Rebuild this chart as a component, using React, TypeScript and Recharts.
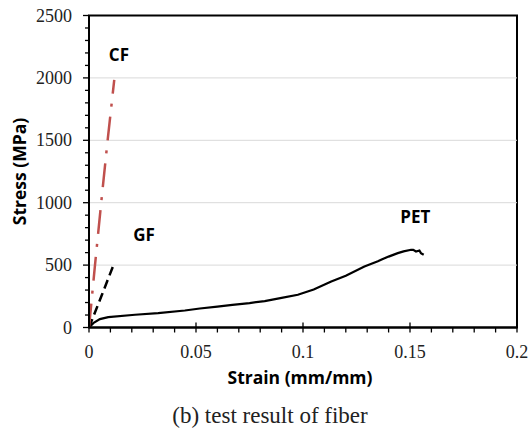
import React from 'react';
import { LineChart, Line, XAxis, YAxis, ReferenceLine, ReferenceArea, ReferenceDot, Label } from 'recharts';

// ---- data ----
const cfStrain = [0, 0.0028, 0.0057, 0.0087, 0.0118];
const cfStress = [0, 500, 1000, 1500, 1985];

const gfStrain = [0, 0.006, 0.0118];
const gfStress = [0, 260, 516];

const petStrain = [0, 0.002, 0.0051, 0.009, 0.0215, 0.0323, 0.0448, 0.0518, 0.06, 0.067, 0.075, 0.0821, 0.09, 0.0976, 0.105, 0.1132, 0.12, 0.1287, 0.135, 0.1365, 0.14, 0.1443, 0.147, 0.1505, 0.1515, 0.1528, 0.1544, 0.1551, 0.1564];
const petStress = [0, 35, 67, 83, 102, 115, 136, 152, 168, 182, 196, 212, 238, 262, 305, 369, 415, 489, 530, 542, 568, 596, 610, 623, 622, 609, 617, 596, 583];

const xTicks = [0, 0.01, 0.02, 0.03, 0.04, 0.05, 0.06, 0.07, 0.08, 0.09, 0.1, 0.11, 0.12, 0.13, 0.14, 0.15, 0.16, 0.17, 0.18, 0.19, 0.2];
const xMajorLabels = ['0', '0.05', '0.1', '0.15', '0.2'];
const yTicks = [0, 100, 200, 300, 400, 500, 600, 700, 800, 900, 1000, 1100, 1200, 1300, 1400, 1500, 1600, 1700, 1800, 1900, 2000, 2100, 2200, 2300, 2400, 2500];
const yMajor = [0, 500, 1000, 1500, 2000, 2500];
const gridValues = [500, 1000, 1500, 2000];

const seriesLabels = [
  { name: 'CF', strain: 0.014, stress: 2185 },
  { name: 'GF', strain: 0.0257, stress: 742 },
  { name: 'PET', strain: 0.1525, stress: 889 },
];

const xTitle = 'Strain (mm/mm)';
const yTitle = 'Stress (MPa)';
const caption = '(b) test result of fiber';

const toRows = (xs: number[], ys: number[]) => xs.map((x, i) => ({ strain: x, stress: ys[i] }));
const cfData = toRows(cfStrain, cfStress);
const gfData = toRows(gfStrain, gfStress);
const petData = toRows(petStrain, petStress);

const serif = '"Liberation Serif", "Times New Roman", serif';
const sans = '"Open Sans", Lato, sans-serif';

const isMajorX = (v: number) => Math.abs(v * 20 - Math.round(v * 20)) < 1e-9;
const majorXLabel = (v: number) => xMajorLabels[Math.round(v * 20)];

const XTick = (props: any) => {
  const { x, y, payload } = props;
  const v = payload.value as number;
  const major = isMajorX(v);
  return (
    <g>
      <line x1={x} x2={x} y1={major ? y - 5 : y} y2={y + 5} stroke="#000" strokeWidth={1.3} />
      {major && (
        <text x={x} y={y + 30.5} textAnchor="middle" fontFamily={serif} fontSize={18} fill="#222">
          {majorXLabel(v)}
        </text>
      )}
    </g>
  );
};

const YTick = (props: any) => {
  const { x, y, payload } = props;
  const v = payload.value as number;
  const major = yMajor.includes(v);
  return (
    <g>
      <line x1={x - (major ? 6 : 4)} x2={x} y1={y} y2={y} stroke="#000" strokeWidth={1.3} />
      {major && (
        <text x={x - 17} y={y + 6} textAnchor="end" fontFamily={serif} fontSize={18} fill="#222">
          {String(v)}
        </text>
      )}
    </g>
  );
};

const XTitle = (props: any) => {
  const vb = props.viewBox;
  return (
    <g>
      <text x={vb.x + vb.width / 2 - 3} y={vb.y + 56} textAnchor="middle" fontFamily={sans} fontWeight="bold" fontSize={17.5} fill="#000">
        {xTitle}
      </text>
      <text x={270} y={vb.y + 95} textAnchor="middle" fontFamily={serif} fontSize={23} fill="#222">
        {caption}
      </text>
    </g>
  );
};

const YTitle = (props: any) => {
  const vb = props.viewBox;
  const cx = 26;
  const cy = vb.y + vb.height / 2;
  return (
    <text x={cx} y={cy} transform={`rotate(-90 ${cx} ${cy})`} textAnchor="middle" fontFamily={sans} fontWeight="bold" fontSize={17.5} fill="#000">
      {yTitle}
    </text>
  );
};

const SeriesLabel = (text: string) => (props: any) => {
  const vb = props.viewBox;
  const cx = vb.x + (vb.width || 0) / 2;
  const cy = vb.y + (vb.height || 0) / 2;
  return (
    <text x={cx} y={cy + 6} textAnchor="middle" fontFamily={sans} fontWeight="bold" fontSize={17} fill="#000">
      {text}
    </text>
  );
};

export default function App() {
  return (
    <div style={{ position: 'absolute', left: 0, top: 0, width: 530, height: 429, background: '#fff' }}>
      <LineChart width={530} height={429} margin={{ top: 15.5, right: 13, bottom: 0, left: 0 }}>
        <XAxis
          dataKey="strain"
          type="number"
          domain={[0, 0.2]}
          ticks={xTicks}
          interval={0}
          allowDataOverflow
          height={101.5}
          tickSize={0}
          tickMargin={0}
          tickLine={false}
          tick={<XTick />}
          axisLine={{ stroke: '#000', strokeWidth: 2 }}
        >
          <Label content={<XTitle />} />
        </XAxis>
        <YAxis
          dataKey="stress"
          type="number"
          domain={[0, 2500]}
          ticks={yTicks}
          interval={0}
          allowDataOverflow
          width={89}
          tickSize={0}
          tickMargin={0}
          tickLine={false}
          tick={<YTick />}
          axisLine={{ stroke: '#000', strokeWidth: 2 }}
        >
          <Label content={<YTitle />} />
        </YAxis>
        {gridValues.map((v) => (
          <ReferenceLine key={v} y={v} stroke="#d9d9d9" strokeWidth={1} />
        ))}
        <ReferenceArea x1={0} x2={0.2} y1={0} y2={2500} fill="none" stroke="#000" strokeWidth={2} fillOpacity={0} />
        <Line data={petData} dataKey="stress" stroke="#000" strokeWidth={2.2} dot={false} isAnimationActive={false} type="linear" />
        <Line data={gfData} dataKey="stress" stroke="#000" strokeWidth={2.5} strokeDasharray="9 5" dot={false} isAnimationActive={false} type="linear" />
        <Line data={cfData} dataKey="stress" stroke="#c0504d" strokeWidth={2.5} strokeDasharray="24 10 3 10" dot={false} isAnimationActive={false} type="linear" />
        {seriesLabels.map((s) => (
          <ReferenceDot key={s.name} x={s.strain} y={s.stress} r={0} fill="none" stroke="none" label={SeriesLabel(s.name) as any} />
        ))}
      </LineChart>
    </div>
  );
}
